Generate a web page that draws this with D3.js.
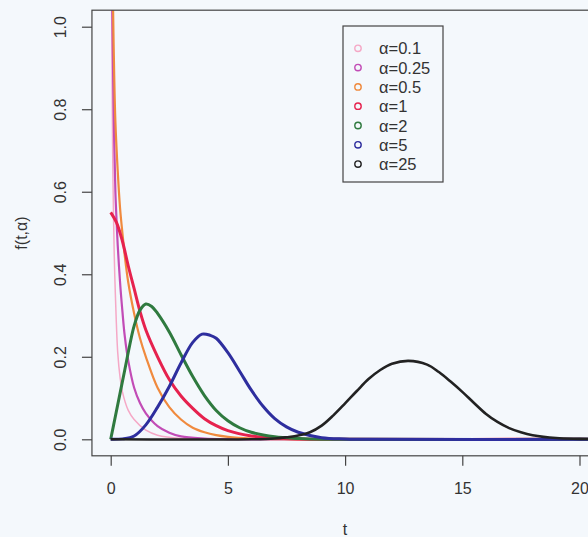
<!DOCTYPE html>
<html>
<head>
<meta charset="utf-8">
<script src="https://cdn.jsdelivr.net/npm/d3@7"></script>
<style>
  body { margin: 0; background: #f4f8fc; }
  svg { display: block; font-family: "Liberation Sans", Arial, sans-serif; }
</style>
</head>
<body>
<svg id="chart" width="588" height="537"></svg>
<script>
// legend labels, one per curve
const alphaLabels = ["α=0.1", "α=0.25", "α=0.5", "α=1", "α=2", "α=5", "α=25"];

// curves: t values and f(t,α) values
const tA01 = [0.015, 0.02, 0.03, 0.05, 0.08, 0.1, 0.15, 0.2, 0.3, 0.4, 0.5, 0.75, 1, 1.5, 2, 3, 4, 6, 10, 21];
const fA01 = [1.6, 1.3, 1.15, 0.95, 0.72, 0.62, 0.45, 0.35, 0.21, 0.15, 0.115, 0.07, 0.048, 0.022, 0.01, 0.002, 0.0005, 0, 0, 0];

const tA025 = [0.04, 0.06, 0.1, 0.15, 0.2, 0.25, 0.3, 0.4, 0.5, 0.6, 0.75, 1, 1.25, 1.5, 2, 2.5, 3, 4, 5, 6, 21];
const fA025 = [1.3, 1.1, 0.9, 0.72, 0.6, 0.53, 0.47, 0.38, 0.31, 0.25, 0.19, 0.125, 0.088, 0.063, 0.032, 0.016, 0.007, 0.002, 0.0005, 0, 0];

const tA05 = [0.06, 0.08, 0.1, 0.15, 0.2, 0.3, 0.4, 0.5, 0.6, 0.75, 1, 1.25, 1.5, 2, 2.5, 3, 3.5, 4, 4.5, 5, 6, 7, 8, 21];
const fA05 = [1.3, 1.15, 1.05, 0.88, 0.77, 0.65, 0.56, 0.5, 0.445, 0.38, 0.305, 0.245, 0.2, 0.125, 0.078, 0.048, 0.028, 0.017, 0.01, 0.006, 0.002, 0.0005, 0, 0];

const tA1 = [0, 0.25, 0.5, 0.75, 1, 1.25, 1.5, 2, 2.5, 3, 3.5, 4, 4.5, 5, 6, 7, 8, 10, 21];
const fA1 = [0.55, 0.525, 0.48, 0.42, 0.365, 0.31, 0.265, 0.2, 0.145, 0.105, 0.075, 0.05, 0.033, 0.021, 0.008, 0.003, 0.001, 0, 0];

const tA2 = [0, 0.2, 0.4, 0.6, 0.8, 1, 1.25, 1.5, 1.75, 2, 2.5, 3, 3.5, 4, 4.5, 5, 5.5, 6, 7, 8, 9, 21];
const fA2 = [0, 0.056, 0.112, 0.168, 0.225, 0.275, 0.313, 0.328, 0.322, 0.305, 0.26, 0.205, 0.152, 0.106, 0.07, 0.045, 0.028, 0.017, 0.006, 0.002, 0, 0];

const tA5 = [0, 0.5, 1, 1.5, 2, 2.5, 3, 3.5, 3.9, 4.25, 4.5, 5, 5.5, 6, 6.5, 7, 7.5, 8, 9, 10, 11, 21];
const fA5 = [0, 0.001, 0.008, 0.035, 0.078, 0.128, 0.185, 0.235, 0.255, 0.252, 0.245, 0.21, 0.165, 0.119, 0.08, 0.05, 0.03, 0.017, 0.004, 0.001, 0, 0];

const tA25 = [0, 6, 7, 7.5, 8, 8.5, 9, 9.5, 10, 10.5, 11, 11.5, 12, 12.7, 13.5, 14, 14.5, 15, 15.5, 16, 16.5, 17, 17.5, 18, 19, 20, 21];
const fA25 = [0, 0, 0.002, 0.005, 0.009, 0.017, 0.033, 0.058, 0.087, 0.117, 0.146, 0.168, 0.183, 0.19, 0.181, 0.163, 0.14, 0.115, 0.088, 0.062, 0.042, 0.027, 0.017, 0.01, 0.003, 0.001, 0];

const xTicks = [0, 5, 10, 15, 20];
const yTicks = [0, 0.2, 0.4, 0.6, 0.8, 1.0];

// styles kept apart from data
const colors = ["#f5a8c6", "#c24cb6", "#f08a3e", "#e6224e", "#2f7a3f", "#2e2e9e", "#222222"];
const widths = [1.5, 2.2, 2.2, 3, 3, 3, 2.6];

const series = [
  [tA01, fA01], [tA025, fA025], [tA05, fA05], [tA1, fA1], [tA2, fA2], [tA5, fA5], [tA25, fA25]
].map(function(s, i) {
  return { label: alphaLabels[i], color: colors[i], width: widths[i],
           points: s[0].map(function(t, j) { return { t: t, f: s[1][j] }; }) };
});

const svg = d3.select("#chart");

const x = d3.scaleLinear().domain([0, 20]).range([110.7, 579.5]);
const y = d3.scaleLinear().domain([0, 1]).range([439.3, 26.7]);

// R style: 4% padding around the data range
const boxLeft = x(-0.8), boxRight = x(20.8), boxTop = y(1.04), boxBottom = y(-0.04);

svg.append("clipPath").attr("id", "plotClip")
  .append("rect")
  .attr("x", boxLeft).attr("y", boxTop)
  .attr("width", boxRight - boxLeft).attr("height", boxBottom - boxTop);

const line = d3.line()
  .x(function(d) { return x(d.t); })
  .y(function(d) { return y(d.f); })
  .curve(d3.curveCatmullRom.alpha(0.5));

svg.append("g").attr("clip-path", "url(#plotClip)")
  .selectAll("path")
  .data(series)
  .enter().append("path")
  .attr("d", function(d) { return line(d.points); })
  .attr("fill", "none")
  .attr("stroke", function(d) { return d.color; })
  .attr("stroke-width", function(d) { return d.width; })
  .attr("stroke-linejoin", "round");

// box
svg.append("rect")
  .attr("x", boxLeft).attr("y", boxTop)
  .attr("width", boxRight - boxLeft).attr("height", boxBottom - boxTop)
  .attr("fill", "none").attr("stroke", "#444").attr("stroke-width", 1.2);

// axes
const xAxis = svg.append("g")
  .attr("transform", "translate(0," + boxBottom + ")")
  .call(d3.axisBottom(x).tickValues(xTicks).tickSize(10).tickPadding(17).tickFormat(d3.format("d")));

const yAxis = svg.append("g")
  .attr("transform", "translate(" + boxLeft + ",0)")
  .call(d3.axisLeft(y).tickValues(yTicks).tickSize(10).tickFormat(d3.format(".1f")));

yAxis.selectAll("text")
  .attr("x", null).attr("dy", null)
  .attr("transform", "translate(-26,0) rotate(-90)")
  .attr("text-anchor", "middle");

[xAxis, yAxis].forEach(function(a) {
  a.select(".domain").remove();
  a.selectAll("line").attr("stroke", "#444").attr("stroke-width", 1.2);
  a.selectAll("text").attr("fill", "#333").style("font-size", "16px")
    .style("font-family", "'Liberation Sans', Arial, sans-serif");
});

// axis titles
svg.append("text")
  .attr("x", x(10)).attr("y", 535)
  .attr("text-anchor", "middle").attr("fill", "#333").style("font-size", "16px")
  .text("t");

svg.append("text")
  .attr("transform", "translate(27," + ((boxTop + boxBottom) / 2) + ") rotate(-90)")
  .attr("text-anchor", "middle").attr("fill", "#333").style("font-size", "16px")
  .text("f(t,α)");

// legend
const legend = svg.append("g");
legend.append("rect")
  .attr("x", 343).attr("y", 26).attr("width", 100).attr("height", 156)
  .attr("fill", "none").attr("stroke", "#444").attr("stroke-width", 1.2);

const rows = legend.selectAll("g.row")
  .data(series)
  .enter().append("g")
  .attr("class", "row")
  .attr("transform", function(d, i) { return "translate(0," + (48.3 + i * 19.3) + ")"; });

rows.append("circle")
  .attr("cx", 358).attr("cy", 0).attr("r", 3.2)
  .attr("fill", "none")
  .attr("stroke", function(d) { return d.color; })
  .attr("stroke-width", 1.4);

rows.append("text")
  .attr("x", 379).attr("y", 6)
  .attr("fill", "#333").style("font-size", "16.5px")
  .text(function(d) { return d.label; });
</script>
</body>
</html>
